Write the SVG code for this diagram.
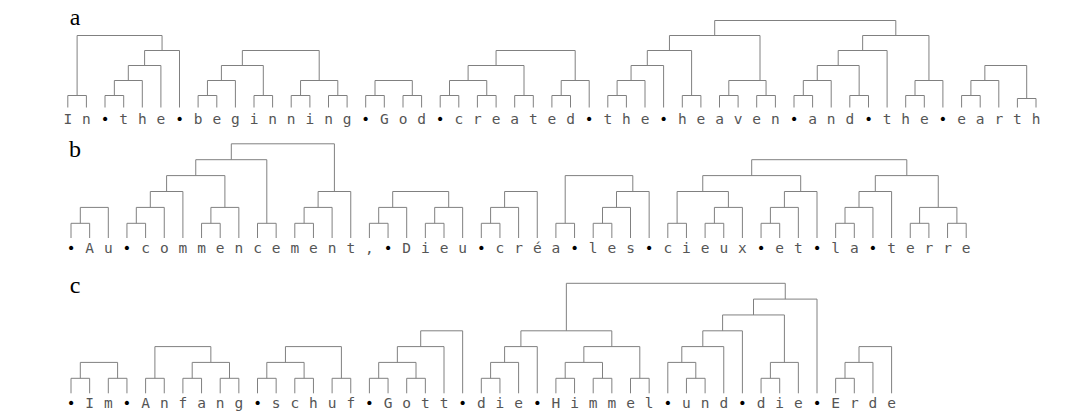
<svg xmlns="http://www.w3.org/2000/svg" width="1066" height="416" viewBox="0 0 1066 416">
<style>
.ln{fill:none;stroke:#808080;stroke-width:1}
.t{font-family:"DejaVu Sans Mono","Liberation Mono",monospace;font-size:14.5px;fill:#555;text-anchor:middle}
.b{fill:#000}
.lab{font-family:"Liberation Serif","Times New Roman",serif;font-size:24px;fill:#000;text-anchor:middle}
</style>
<rect width="1066" height="416" fill="#fff"/>
<g id="labels">
<text class="lab" x="75" y="25">a</text>
<text class="lab" x="75" y="157">b</text>
<text class="lab" x="75" y="293">c</text>
</g>
<g id="connectors">
<g id="tree-a">
<path class="ln" d="M67.8 107.5V95.5H86.4V107.5M105 107.5V95.5H123.7V107.5M114.35 95.5V80.5H142.3V107.5M128.3 80.5V65.5H160.9V107.5M144.6 65.5V50.5H179.5V107.5M77.1 95.5V35.5H162.05V50.5"/>
<path class="ln" d="M198.1 107.5V95.5H216.8V107.5M207.45 95.5V80.5H235.4V107.5M254 107.5V95.5H272.6V107.5M221.4 80.5V65.5H263.3V95.5M291.2 107.5V95.5H309.9V107.5M328.5 107.5V95.5H347.1V107.5M300.55 95.5V80.5H337.8V95.5M242.35 65.5V50.5H319.2V80.5"/>
<path class="ln" d="M365.7 107.5V95.5H384.3V107.5M403 107.5V95.5H421.6V107.5M375 95.5V80.5H412.3V95.5"/>
<path class="ln" d="M440.2 107.5V95.5H458.8V107.5M477.4 107.5V95.5H496.1V107.5M449.5 95.5V80.5H486.75V95.5M514.7 107.5V95.5H533.3V107.5M468.1 80.5V65.5H524V95.5M551.9 107.5V95.5H570.5V107.5M561.2 95.5V80.5H589.2V107.5M496.05 65.5V50.5H575.2V80.5"/>
<path class="ln" d="M607.8 107.5V95.5H626.4V107.5M617.1 95.5V80.5H645V107.5M631.05 80.5V65.5H663.6V107.5M682.3 107.5V95.5H700.9V107.5M647.3 65.5V50.5H691.6V95.5M719.5 107.5V95.5H738.1V107.5M756.7 107.5V95.5H775.4V107.5M728.8 95.5V80.5H766.05V95.5M669.45 50.5V35.5H760V80.5M794 107.5V95.5H812.6V107.5M803.3 95.5V80.5H831.2V107.5M849.8 107.5V95.5H868.5V107.5M817.25 80.5V65.5H859.15V95.5M838.2 65.5V50.5H887.1V107.5M905.7 107.5V95.5H924.3V107.5M915 95.5V80.5H942.9V107.5M862.65 50.5V35.5H928.95V80.5M714.7 35.5V20.5H895.8V35.5"/>
<path class="ln" d="M961.6 107.5V95.5H980.2V107.5M970.9 95.5V80.5H998.8V107.5M1017.4 107.5V98.5H1036V107.5M984.85 80.5V65.5H1026.7V98.5"/>
</g>
<g id="tree-b">
<path class="ln" d="M71 238V223.3H89.65V238M80.3 223.3V207.4H108.3V238"/>
<path class="ln" d="M126.95 238V223.3H145.6V238M136.3 223.3V207.4H164.25V238M150.3 207.4V191.5H182.9V238M201.55 238V223.3H220.2V238M210.9 223.3V207.4H238.85V238M166.6 191.5V175.6H224.9V207.4M257.5 238V223.3H276.15V238M195.75 175.6V159.7H266.8V223.3M294.8 238V223.3H313.45V238M304.1 223.3V207.4H332.1V238M318.1 207.4V191.5H350.75V238M231.3 159.7V143.8H334.4V191.5"/>
<path class="ln" d="M369.4 238V223.3H388.05V238M378.7 223.3V207.4H406.7V238M425.35 238V223.3H444V238M434.7 223.3V207.4H462.65V238M392.7 207.4V191.5H448.7V207.4"/>
<path class="ln" d="M481.3 238V223.3H499.95V238M490.6 223.3V207.4H518.6V238M504.6 207.4V191.5H537.25V238"/>
<path class="ln" d="M555.9 238V223.3H574.55V238M593.2 238V223.3H611.85V238M602.5 223.3V207.4H630.5V238M616.5 207.4V191.5H649.15V238M565.2 223.3V175.6H632.8V191.5"/>
<path class="ln" d="M667.8 238V223.3H686.45V238M705.1 238V223.3H723.75V238M714.4 223.3V207.4H742.4V238M677.1 223.3V191.5H728.4V207.4M761.05 238V223.3H779.7V238M770.4 223.3V207.4H798.35V238M784.4 207.4V191.5H817V238M702.75 191.5V175.6H800.7V191.5M835.65 238V223.3H854.3V238M845 223.3V207.4H872.95V238M859 207.4V191.5H891.6V238M910.25 238V223.3H928.9V238M947.55 238V223.3H966.2V238M919.6 223.3V207.4H956.9V223.3M875.3 191.5V175.6H938.25V207.4M751.7 175.6V159.7H906.8V175.6"/>
</g>
<g id="tree-c">
<path class="ln" d="M71 393.3V378.3H89.65V393.3M108.3 393.3V378.3H126.95V393.3M80.3 378.3V362.4H117.6V378.3"/>
<path class="ln" d="M145.6 393.3V378.3H164.25V393.3M182.9 393.3V378.3H201.55V393.3M220.2 393.3V378.3H238.85V393.3M192.2 378.3V362.4H229.5V378.3M154.9 378.3V346.6H210.85V362.4"/>
<path class="ln" d="M257.5 393.3V378.3H276.15V393.3M294.8 393.3V378.3H313.45V393.3M266.8 378.3V362.4H304.1V378.3M332.1 393.3V378.3H350.75V393.3M285.45 362.4V346.6H341.4V378.3"/>
<path class="ln" d="M369.4 393.3V378.3H388.05V393.3M406.7 393.3V378.3H425.35V393.3M378.7 378.3V362.4H416V378.3M397.35 362.4V346.6H444V393.3M420.7 346.6V330.8H462.65V393.3"/>
<path class="ln" d="M481.3 393.3V378.3H499.95V393.3M490.6 378.3V362.4H518.6V393.3M504.6 362.4V346.6H537.25V393.3M555.9 393.3V378.3H574.55V393.3M593.2 393.3V378.3H611.85V393.3M565.2 378.3V362.4H602.5V378.3M630.5 393.3V378.3H649.15V393.3M583.85 362.4V346.6H639.8V378.3M520.9 346.6V330.8H611.8V346.6M686.45 393.3V378.3H705.1V393.3M667.8 393.3V362.4H695.8V378.3M681.8 362.4V346.6H723.75V393.3M702.8 346.6V330.8H742.4V393.3M761.05 393.3V378.3H779.7V393.3M770.4 378.3V362.4H798.35V393.3M722.6 330.8V314.95H784.4V362.4M753.5 314.95V299.1H817V393.3M566.35 330.8V283.3H785.25V299.1"/>
<path class="ln" d="M835.65 393.3V378.3H854.3V393.3M845 378.3V362.4H872.95V393.3M859 362.4V346.6H891.6V393.3"/>
</g>
</g>
<g id="text-a">
<text class="t" y="124.3"><tspan x="67.8 86.4">In</tspan><tspan class="b" x="105">•</tspan><tspan x="123.7 142.3 160.9">the</tspan><tspan class="b" x="179.5">•</tspan><tspan x="198.1 216.8 235.4 254 272.6 291.2 309.9 328.5 347.1">beginning</tspan><tspan class="b" x="365.7">•</tspan><tspan x="384.3 403 421.6">God</tspan><tspan class="b" x="440.2">•</tspan><tspan x="458.8 477.4 496.1 514.7 533.3 551.9 570.5">created</tspan><tspan class="b" x="589.2">•</tspan><tspan x="607.8 626.4 645">the</tspan><tspan class="b" x="663.6">•</tspan><tspan x="682.3 700.9 719.5 738.1 756.7 775.4">heaven</tspan><tspan class="b" x="794">•</tspan><tspan x="812.6 831.2 849.8">and</tspan><tspan class="b" x="868.5">•</tspan><tspan x="887.1 905.7 924.3">the</tspan><tspan class="b" x="942.9">•</tspan><tspan x="961.6 980.2 998.8 1017.4 1036">earth</tspan></text>
</g>
<g id="text-b">
<text class="t" y="253.3"><tspan class="b" x="71">•</tspan><tspan x="89.65 108.3">Au</tspan><tspan class="b" x="126.95">•</tspan><tspan x="145.6 164.25 182.9 201.55 220.2 238.85 257.5 276.15 294.8 313.45 332.1 350.75 369.4">commencement,</tspan><tspan class="b" x="388.05">•</tspan><tspan x="406.7 425.35 444 462.65">Dieu</tspan><tspan class="b" x="481.3">•</tspan><tspan x="499.95 518.6 537.25 555.9">créa</tspan><tspan class="b" x="574.55">•</tspan><tspan x="593.2 611.85 630.5">les</tspan><tspan class="b" x="649.15">•</tspan><tspan x="667.8 686.45 705.1 723.75 742.4">cieux</tspan><tspan class="b" x="761.05">•</tspan><tspan x="779.7 798.35">et</tspan><tspan class="b" x="817">•</tspan><tspan x="835.65 854.3">la</tspan><tspan class="b" x="872.95">•</tspan><tspan x="891.6 910.25 928.9 947.55 966.2">terre</tspan></text>
</g>
<g id="text-c">
<text class="t" y="408.3"><tspan class="b" x="71">•</tspan><tspan x="89.65 108.3">Im</tspan><tspan class="b" x="126.95">•</tspan><tspan x="145.6 164.25 182.9 201.55 220.2 238.85">Anfang</tspan><tspan class="b" x="257.5">•</tspan><tspan x="276.15 294.8 313.45 332.1 350.75">schuf</tspan><tspan class="b" x="369.4">•</tspan><tspan x="388.05 406.7 425.35 444">Gott</tspan><tspan class="b" x="462.65">•</tspan><tspan x="481.3 499.95 518.6">die</tspan><tspan class="b" x="537.25">•</tspan><tspan x="555.9 574.55 593.2 611.85 630.5 649.15">Himmel</tspan><tspan class="b" x="667.8">•</tspan><tspan x="686.45 705.1 723.75">und</tspan><tspan class="b" x="742.4">•</tspan><tspan x="761.05 779.7 798.35">die</tspan><tspan class="b" x="817">•</tspan><tspan x="835.65 854.3 872.95 891.6">Erde</tspan></text>
</g>
</svg>
